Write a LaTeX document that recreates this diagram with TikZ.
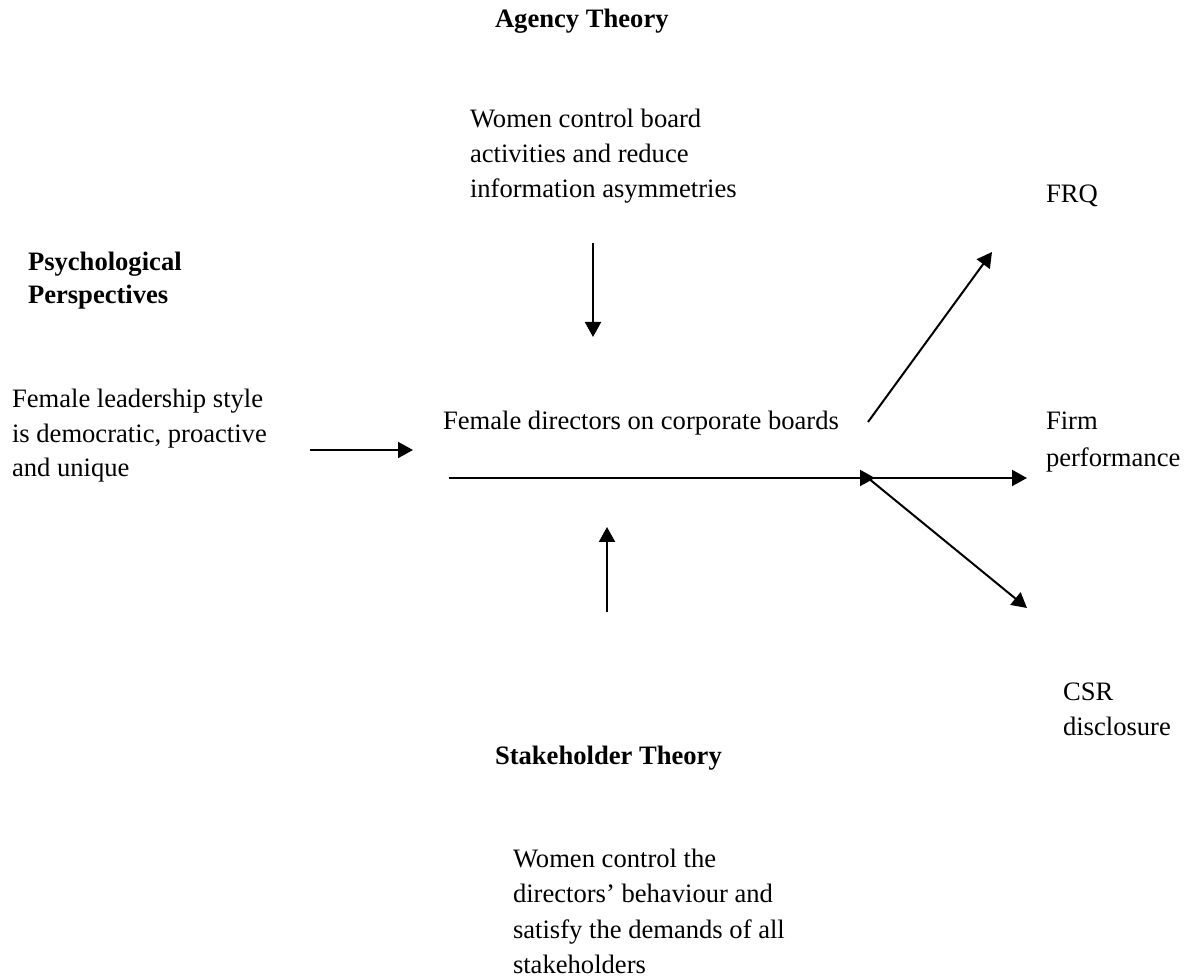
\documentclass[tikz,border=0pt]{standalone}
\usepackage{fontspec}
\setmainfont{Liberation Serif}
\usetikzlibrary{arrows.meta}
\newcommand{\mlines}[2]{{\fontsize{13.3}{#1}\selectfont\begin{tabular}[t]{@{}l@{}}#2\end{tabular}}}
\begin{document}
\begin{tikzpicture}[x=0.5pt,y=-0.5pt,
  txt/.style={anchor=base west,inner sep=0pt,outer sep=0pt,font=\fontsize{13.3}{17.5}\selectfont},
  hd/.style={txt,font=\fontsize{13.3}{17.5}\selectfont\bfseries},
  conn/.style={line width=1pt,-{Triangle[length=7.5pt,width=8pt]}}]
\useasboundingbox (0,0) rectangle (1184,978);
% texts
\node[hd] (agency) at (495,28) {Agency Theory};
\node[txt] (agtext) at (470,128) {\mlines{17.5pt}{Women control board\\activities and reduce\\information asymmetries}};
\node[hd] (psych) at (28,271) {\mlines{16.5pt}{\bfseries Psychological\\\bfseries Perspectives}};
\node[txt] (femstyle) at (12,408) {\mlines{17.25pt}{Female leadership style\\is democratic, proactive\\and unique}};
\node[txt] (fdir) at (443,430) {Female directors on corporate boards};
\node[txt] (frq) at (1046,203) {FRQ};
\node[txt] (firm) at (1046,430) {\mlines{18.5pt}{Firm\\performance}};
\node[txt] (csr) at (1063,700) {\mlines{17.5pt}{CSR\\disclosure}};
\node[hd] (stake) at (495,764) {Stakeholder Theory};
\node[txt] (sttext) at (513,867) {\mlines{17.75pt}{Women control the\\directors’ behaviour and\\satisfy the demands of all\\stakeholders}};
% connector end points
\coordinate (a1s) at (593,243);
\coordinate (a1e) at (593,337);
\coordinate (a2s) at (607,612);
\coordinate (a2e) at (607,527);
\coordinate (a3s) at (310,450);
\coordinate (a3e) at (413,450);
\coordinate (ms) at (449,478);
\coordinate (hub) at (875,478);
\coordinate (hub2) at (868,478);
\coordinate (firmtip) at (1027,478);
\coordinate (csrtip) at (1027,608);
\coordinate (frqs) at (868,422);
\coordinate (frqtip) at (992,252);
% connectors
\draw[conn] (a1s) -- (a1e);
\draw[conn] (a2s) -- (a2e);
\draw[conn] (a3s) -- (a3e);
\draw[conn] (ms) -- (hub);
\draw[conn] (hub2) -- (firmtip);
\draw[conn] (hub2) -- (csrtip);
\draw[conn] (frqs) -- (frqtip);
\end{tikzpicture}
\end{document}
